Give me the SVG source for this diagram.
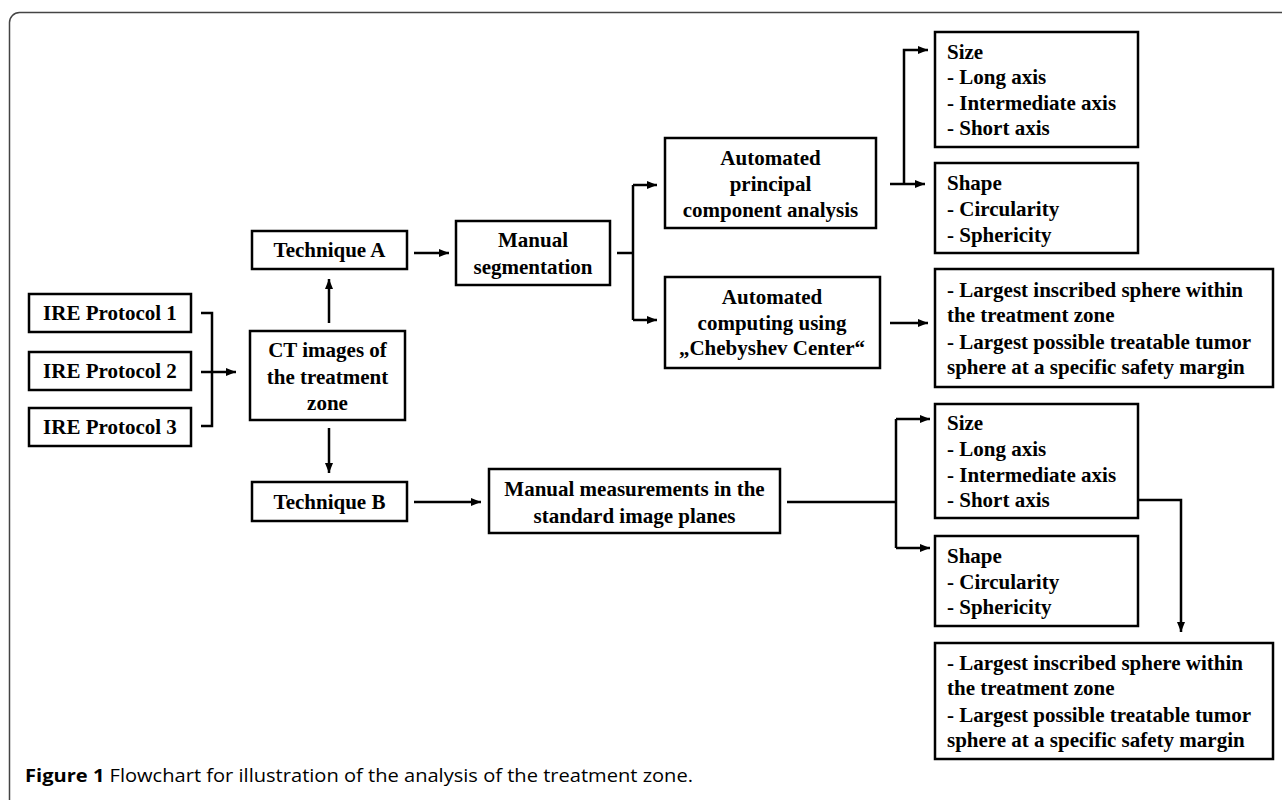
<svg xmlns="http://www.w3.org/2000/svg" width="1282" height="800" viewBox="0 0 1282 800">
<style>
.box{fill:#fff;stroke:#000;stroke-width:2.5}
.t{font-family:"Liberation Serif","Times New Roman",serif;font-weight:bold;font-size:21px;fill:#000}
.c{text-anchor:middle}
.ln{fill:none;stroke:#000;stroke-width:2.5}
.cap{font-family:"Open Sans","Liberation Sans",sans-serif;font-size:18.5px;fill:#000}
</style>
<defs>
<marker id="ah" markerUnits="userSpaceOnUse" markerWidth="10" markerHeight="8" refX="10" refY="4" orient="auto">
<path d="M0,0 L10,4 L0,8 z" fill="#000"/>
</marker>
</defs>
<rect width="1282" height="800" fill="#fff"/>
<rect x="9.5" y="12.5" width="1300" height="820" rx="10" fill="none" stroke="#444" stroke-width="1.5"/>

<g id="connectors">
<path class="ln" d="M201 313 H212 V426 H201"/>
<path class="ln" d="M201 372 H236" marker-end="url(#ah)"/>
<path class="ln" d="M329 323 V279" marker-end="url(#ah)"/>
<path class="ln" d="M329 428 V473" marker-end="url(#ah)"/>
<path class="ln" d="M414 253 H449" marker-end="url(#ah)"/>
<path class="ln" d="M617 253 H633"/>
<path class="ln" d="M633 185 V320"/>
<path class="ln" d="M633 185 H657" marker-end="url(#ah)"/>
<path class="ln" d="M633 320 H657" marker-end="url(#ah)"/>
<path class="ln" d="M890 184 H925" marker-end="url(#ah)"/>
<path class="ln" d="M904 184 V50 H928" marker-end="url(#ah)"/>
<path class="ln" d="M890 323 H928" marker-end="url(#ah)"/>
<path class="ln" d="M414 502 H481" marker-end="url(#ah)"/>
<path class="ln" d="M787 502 H896"/>
<path class="ln" d="M896 419 V548"/>
<path class="ln" d="M896 419 H930" marker-end="url(#ah)"/>
<path class="ln" d="M896 548 H930" marker-end="url(#ah)"/>
<path class="ln" d="M1067 500 H1181 V632" marker-end="url(#ah)"/>
</g>

<g id="ire1"><rect class="box" x="29" y="294" width="162" height="38"/><text class="t c" x="110" y="320">IRE Protocol 1</text></g>
<g id="ire2"><rect class="box" x="29" y="352" width="162" height="38"/><text class="t c" x="110" y="378">IRE Protocol 2</text></g>
<g id="ire3"><rect class="box" x="29" y="408" width="162" height="38"/><text class="t c" x="110" y="434">IRE Protocol 3</text></g>

<g id="ct"><rect class="box" x="250" y="331" width="155" height="89"/>
<text class="t c" x="327.5" y="357">CT images of</text>
<text class="t c" x="327.5" y="384">the treatment</text>
<text class="t c" x="327.5" y="410">zone</text></g>

<g id="techA"><rect class="box" x="252" y="231" width="155" height="38"/><text class="t c" x="329.5" y="257">Technique A</text></g>
<g id="techB"><rect class="box" x="252" y="482" width="155" height="39"/><text class="t c" x="329.5" y="509">Technique B</text></g>

<g id="manseg"><rect class="box" x="456" y="221" width="154" height="64"/>
<text class="t c" x="533" y="247">Manual</text>
<text class="t c" x="533" y="274">segmentation</text></g>

<g id="manmeas"><rect class="box" x="489" y="469" width="291" height="64"/>
<text class="t c" x="634.5" y="496">Manual measurements in the</text>
<text class="t c" x="634.5" y="523">standard image planes</text></g>

<g id="pca"><rect class="box" x="665" y="138" width="211" height="90"/>
<text class="t c" x="770.5" y="165">Automated</text>
<text class="t c" x="770.5" y="191">principal</text>
<text class="t c" x="770.5" y="217">component analysis</text></g>

<g id="cheb"><rect class="box" x="665" y="277" width="215" height="91"/>
<text class="t c" x="772" y="304">Automated</text>
<text class="t c" x="772" y="330">computing using</text>
<text class="t c" x="772" y="355">„Chebyshev Center“</text></g>

<g id="sizeA"><rect class="box" x="935" y="32" width="203" height="115"/>
<text class="t" x="947" y="59">Size</text>
<text class="t" x="947" y="84">- Long axis</text>
<text class="t" x="947" y="110">- Intermediate axis</text>
<text class="t" x="947" y="135">- Short axis</text></g>

<g id="shapeA"><rect class="box" x="935" y="163" width="203" height="90"/>
<text class="t" x="947" y="190">Shape</text>
<text class="t" x="947" y="216">- Circularity</text>
<text class="t" x="947" y="242">- Sphericity</text></g>

<g id="sphereA"><rect class="box" x="935" y="269" width="338" height="118"/>
<text class="t" x="947" y="297">- Largest inscribed sphere within</text>
<text class="t" x="947" y="322">the treatment zone</text>
<text class="t" x="947" y="349">- Largest possible treatable tumor</text>
<text class="t" x="947" y="374">sphere at a specific safety margin</text></g>

<g id="sizeB"><rect class="box" x="935" y="404" width="203" height="114"/>
<text class="t" x="947" y="430">Size</text>
<text class="t" x="947" y="456">- Long axis</text>
<text class="t" x="947" y="482">- Intermediate axis</text>
<text class="t" x="947" y="507">- Short axis</text></g>

<g id="shapeB"><rect class="box" x="935" y="536" width="203" height="90"/>
<text class="t" x="947" y="563">Shape</text>
<text class="t" x="947" y="589">- Circularity</text>
<text class="t" x="947" y="614">- Sphericity</text></g>

<g id="sphereB"><rect class="box" x="935" y="643" width="338" height="116"/>
<text class="t" x="947" y="670">- Largest inscribed sphere within</text>
<text class="t" x="947" y="695">the treatment zone</text>
<text class="t" x="947" y="722">- Largest possible treatable tumor</text>
<text class="t" x="947" y="747">sphere at a specific safety margin</text></g>

<text class="cap" x="25" y="782" textLength="668" lengthAdjust="spacingAndGlyphs"><tspan font-weight="bold">Figure 1</tspan> Flowchart for illustration of the analysis of the treatment zone.</text>
</svg>
